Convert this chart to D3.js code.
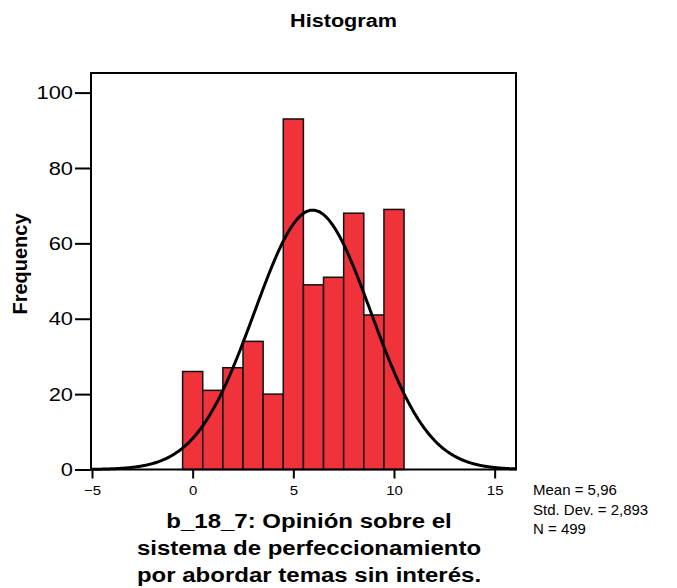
<!DOCTYPE html>
<html><head><meta charset="utf-8">
<script src="https://cdn.jsdelivr.net/npm/d3@7"></script>
<style>body{margin:0;background:#fff;font-family:"Liberation Sans",Arial,sans-serif;}</style>
</head><body><svg id="c" width="677" height="588"></svg>
<script>
const binCenters = [0,1,2,3,4,5,6,7,8,9,10];
const frequencies = [26,21,27,34,20,93,49,51,68,41,69];
const xTicks = [-5,0,5,10,15];
const yTicks = [0,20,40,60,80,100];
const mean = 5.96, sd = 2.893, n = 499;
const titleText = "Histogram";
const yLabelText = "Frequency";
const xLabelLines = ["b_18_7: Opinión sobre el","sistema de perfeccionamiento","por abordar temas sin interés."];
const statLines = ["Mean = 5,96","Std. Dev. = 2,893","N = 499"];

const svg = d3.select("#c");
const FONT = "Liberation Sans, Arial, sans-serif";
const L=91,R=516,T=73,B=469.5;
const x = d3.scaleLinear().domain([-5.05,16.06]).range([L,R]);
const y = d3.scaleLinear().domain([0,105.2]).range([B,T]);

function stretch(sel,k){
  sel.each(function(){
    const w=this.getComputedTextLength();
    d3.select(this).attr("textLength",w*k).attr("lengthAdjust","spacingAndGlyphs");
  });
}

svg.append("text").attr("x",343.5).attr("y",27).attr("text-anchor","middle")
  .attr("font-family",FONT).attr("font-weight","bold").attr("font-size",18).text(titleText)
  .call(stretch,1.2);

// bars
svg.append("g").selectAll("rect").data(binCenters).join("rect")
  .attr("x",d=>x(d-0.5)).attr("width",d=>x(d+0.5)-x(d-0.5))
  .attr("y",(d,i)=>y(frequencies[i])).attr("height",(d,i)=>y(0)-y(frequencies[i]))
  .attr("fill","#f0323b").attr("stroke","#111").attr("stroke-width",1.5);

// normal curve
const pts = d3.range(-5.05,16.07,0.05).map(v=>[v, n*1*Math.exp(-0.5*((v-mean)/sd)**2)/(sd*Math.sqrt(2*Math.PI))]);
svg.append("path").datum(pts).attr("fill","none").attr("stroke","#000").attr("stroke-width",3)
  .attr("d",d3.line().x(d=>x(d[0])).y(d=>y(d[1])).curve(d3.curveBasis));

// frame
svg.append("rect").attr("x",L).attr("y",T).attr("width",R-L).attr("height",B-T)
  .attr("fill","none").attr("stroke","#000").attr("stroke-width",2);

// axes
const ya = svg.append("g").attr("transform",`translate(${L},0)`)
  .call(d3.axisLeft(y).tickValues(yTicks).tickSize(16).tickPadding(2));
ya.select(".domain").remove();
ya.selectAll("line").attr("stroke","#000").attr("stroke-width",2);
ya.selectAll("text").attr("font-size",19).attr("fill","#000").attr("font-family",FONT).call(stretch,1.15);

const xa = svg.append("g").attr("transform",`translate(0,${B})`)
  .call(d3.axisBottom(x).tickValues(xTicks).tickSize(9).tickPadding(7));
xa.select(".domain").remove();
xa.selectAll("line").attr("stroke","#000").attr("stroke-width",2);
xa.selectAll("text").attr("font-size",13).attr("fill","#000").attr("font-family",FONT).call(stretch,1.15);

svg.append("text").attr("transform","translate(27,264) rotate(-90)").attr("text-anchor","middle")
  .attr("font-family",FONT).attr("font-weight","bold").attr("font-size",20).text(yLabelText);

svg.append("g").selectAll("text").data(xLabelLines).join("text")
  .attr("x",309).attr("y",(d,i)=>528+i*27).attr("text-anchor","middle")
  .attr("font-family",FONT).attr("font-weight","bold").attr("font-size",20).text(d=>d)
  .call(stretch,1.2);

svg.append("g").selectAll("text").data(statLines).join("text")
  .attr("x",533).attr("y",(d,i)=>495+i*19.5).attr("font-family",FONT).attr("font-size",15).text(d=>d);
</script></body></html>
